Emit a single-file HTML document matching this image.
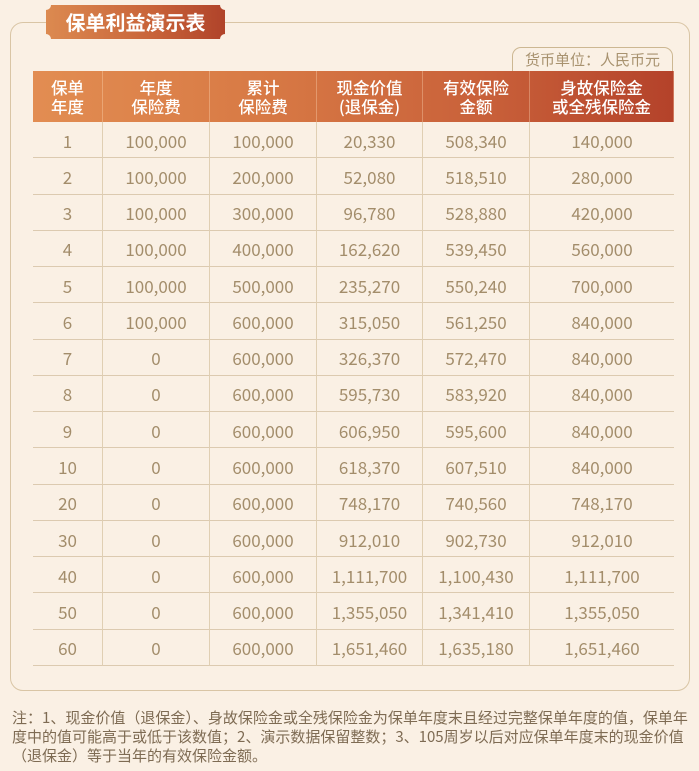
<!DOCTYPE html>
<html><head><meta charset="utf-8">
<style>
*{margin:0;padding:0;box-sizing:border-box;}
html,body{width:699px;height:771px;overflow:hidden;background:#faf0e4;}
body{position:relative;font-family:"Liberation Sans","Noto Sans CJK SC",sans-serif;}
.frame{position:absolute;left:10px;top:22px;width:680px;height:669px;border:1.5px solid #d9c5a5;border-radius:13px;}
.badge-text{position:absolute;left:46px;top:5px;width:179px;height:34px;line-height:34px;text-align:center;color:#fff;font-size:20px;font-weight:bold;font-family:"Noto Sans CJK SC",sans-serif;}
.tab{position:absolute;left:512px;top:47px;width:161px;height:26px;border:1.5px solid #ccb792;border-bottom:none;border-radius:9px 9px 0 0;color:#a8926f;font-size:15px;font-family:"Noto Sans CJK SC",sans-serif;text-align:center;line-height:23px;}
.grid{position:absolute;left:33px;top:71px;width:641px;display:grid;grid-template-columns:70px 107px 107px 106px 107px 144px;grid-template-rows:51px repeat(15,36.27px);}
.hd{position:absolute;left:33px;top:71px;width:641px;height:51px;background:linear-gradient(90deg,#e28d52 0%,#d87a45 35%,#c9613a 70%,#b4422a 100%);}
.h{color:#fff;font-size:16.5px;line-height:19px;text-align:center;display:flex;align-items:center;justify-content:center;font-family:"Noto Sans CJK SC",sans-serif;font-weight:500;border-right:1px solid rgba(255,220,190,0.35);position:relative;z-index:1;}
.h:last-child{border-right:none;}
.c{color:#a38d6b;font-size:17px;line-height:20px;text-align:center;display:flex;align-items:center;justify-content:center;padding-top:2px;border-right:1px solid #e0cfb3;border-bottom:1.3px solid #dccab0;font-family:"Noto Sans CJK SC",sans-serif;}
.c.l{border-right:none;}
.note{position:absolute;left:12px;top:708px;color:#7e6b53;font-size:15px;line-height:19px;font-family:"Noto Sans CJK SC",sans-serif;white-space:nowrap;}
.note div{height:19px;}
</style></head><body>
<div class="frame"></div>
<svg width="179" height="34" viewBox="0 0 179 34" style="position:absolute;left:46px;top:5px;">
<defs><linearGradient id="g" x1="0" x2="1" y1="0" y2="0"><stop offset="0" stop-color="#dc8a50"/><stop offset="0.6" stop-color="#c86339"/><stop offset="1" stop-color="#b0432a"/></linearGradient></defs>
<path d="M5 0 H174 A5 5 0 0 0 179 5 V29 A5 5 0 0 0 174 34 H5 A5 5 0 0 0 0 29 V5 A5 5 0 0 0 5 0 Z" fill="url(#g)"/>
</svg>
<div class="badge-text">保单利益演示表</div>
<div class="tab">货币单位：人民币元</div>
<div class="hd"></div>
<div class="grid">
<div class="h">保单<br>年度</div><div class="h">年度<br>保险费</div><div class="h">累计<br>保险费</div><div class="h">现金价值<br>(退保金)</div><div class="h">有效保险<br>金额</div><div class="h">身故保险金<br>或全残保险金</div>

<div class="c">1</div><div class="c">100,000</div><div class="c">100,000</div><div class="c">20,330</div><div class="c">508,340</div><div class="c l">140,000</div>
<div class="c">2</div><div class="c">100,000</div><div class="c">200,000</div><div class="c">52,080</div><div class="c">518,510</div><div class="c l">280,000</div>
<div class="c">3</div><div class="c">100,000</div><div class="c">300,000</div><div class="c">96,780</div><div class="c">528,880</div><div class="c l">420,000</div>
<div class="c">4</div><div class="c">100,000</div><div class="c">400,000</div><div class="c">162,620</div><div class="c">539,450</div><div class="c l">560,000</div>
<div class="c">5</div><div class="c">100,000</div><div class="c">500,000</div><div class="c">235,270</div><div class="c">550,240</div><div class="c l">700,000</div>
<div class="c">6</div><div class="c">100,000</div><div class="c">600,000</div><div class="c">315,050</div><div class="c">561,250</div><div class="c l">840,000</div>
<div class="c">7</div><div class="c">0</div><div class="c">600,000</div><div class="c">326,370</div><div class="c">572,470</div><div class="c l">840,000</div>
<div class="c">8</div><div class="c">0</div><div class="c">600,000</div><div class="c">595,730</div><div class="c">583,920</div><div class="c l">840,000</div>
<div class="c">9</div><div class="c">0</div><div class="c">600,000</div><div class="c">606,950</div><div class="c">595,600</div><div class="c l">840,000</div>
<div class="c">10</div><div class="c">0</div><div class="c">600,000</div><div class="c">618,370</div><div class="c">607,510</div><div class="c l">840,000</div>
<div class="c">20</div><div class="c">0</div><div class="c">600,000</div><div class="c">748,170</div><div class="c">740,560</div><div class="c l">748,170</div>
<div class="c">30</div><div class="c">0</div><div class="c">600,000</div><div class="c">912,010</div><div class="c">902,730</div><div class="c l">912,010</div>
<div class="c">40</div><div class="c">0</div><div class="c">600,000</div><div class="c">1,111,700</div><div class="c">1,100,430</div><div class="c l">1,111,700</div>
<div class="c">50</div><div class="c">0</div><div class="c">600,000</div><div class="c">1,355,050</div><div class="c">1,341,410</div><div class="c l">1,355,050</div>
<div class="c">60</div><div class="c">0</div><div class="c">600,000</div><div class="c">1,651,460</div><div class="c">1,635,180</div><div class="c l">1,651,460</div>
</div>
<div class="note">
<div>注：1、现金价值（退保金）、身故保险金或全残保险金为保单年度末且经过完整保单年度的值，保单年</div>
<div>度中的值可能高于或低于该数值；2、演示数据保留整数；3、105周岁以后对应保单年度末的现金价值</div>
<div>（退保金）等于当年的有效保险金额。</div>
</div>
</body></html>
